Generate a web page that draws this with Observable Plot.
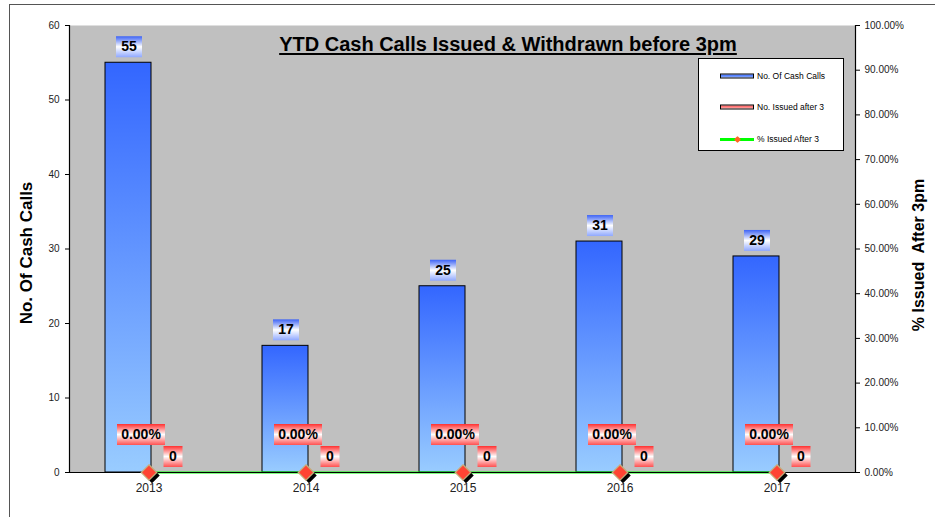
<!DOCTYPE html>
<html>
<head>
<meta charset="utf-8">
<script src="https://cdn.jsdelivr.net/npm/d3@7"></script>
<script src="https://cdn.jsdelivr.net/npm/@observablehq/plot@0.6"></script>
<style>
  body { margin: 0; background: #fff; font-family: Arial, "Liberation Sans", sans-serif; }
  #wrap { position: relative; width: 935px; height: 517px; overflow: hidden; }
  #border { position: absolute; left: 9px; top: 4px; width: 960px; height: 560px; border-left: 1.5px solid #555; border-top: 1.5px solid #555; pointer-events: none; }
  #chart { position: absolute; left: 0; top: 0; }
  .title { position: absolute; left: 508px; top: 33px; transform: translateX(-50%); white-space: nowrap; font-weight: bold; font-size: 20px; text-decoration: underline; text-decoration-thickness: 2px; text-underline-offset: 2px; color: #000; }
  .ylab { position: absolute; white-space: nowrap; font-weight: bold; color: #000; transform: translate(-50%, -50%) rotate(-90deg); }
  #legend { position: absolute; left: 698px; top: 58px; width: 146px; height: 93px; background: #fff; border: 1px solid #000; box-sizing: border-box; }
  .lg { position: absolute; left: 58px; font-size: 8.5px; color: #000; white-space: nowrap; transform: translateY(-50%); }
  .sw { position: absolute; left: 21px; width: 34px; height: 5px; box-sizing: border-box; border: 1px solid #000; transform: translateY(-50%); }
</style>
</head>
<body>
<div id="wrap">
  <div id="border"></div>
  <div id="chart"></div>
</div>
<script>
// ---- data ----
const years = ["2013", "2014", "2015", "2016", "2017"];
const cashCalls = [55, 17, 25, 31, 29];
const issuedAfter3 = [0, 0, 0, 0, 0];
const pctIssuedAfter3 = [0, 0, 0, 0, 0];          // fraction of calls
const leftTicks = [0, 10, 20, 30, 40, 50, 60];
const rightTicks = [0, 0.1, 0.2, 0.3, 0.4, 0.5, 0.6, 0.7, 0.8, 0.9, 1.0];
const seriesNames = ["No. Of Cash Calls", "No. Issued after 3", "% Issued After 3"];
const titleText = "YTD Cash Calls Issued & Withdrawn before 3pm";
const leftAxisTitle = "No. Of Cash Calls";
const rightAxisTitle = "% Issued\u00a0 After 3pm";

const yMax = 60;
const rows = years.map((y, i) => ({
  year: y, calls: cashCalls[i], after3: issuedAfter3[i], pct: pctIssuedAfter3[i]
}));
const pctY = d => d.pct * yMax;
const fmtPct = v => (v * 100).toFixed(2) + "%";

const boxSymbol = (w, h) => ({ draw(ctx) { ctx.rect(-w / 2, -h / 2, w, h); } });
const lblFont = { fontWeight: "bold", fontSize: 14, fill: "#000" };

const plot = Plot.plot({
  width: 935,
  height: 517,
  marginLeft: 69,
  marginRight: 80,
  marginTop: 25,
  marginBottom: 45,
  style: { fontFamily: "Arial, 'Liberation Sans', sans-serif", fontSize: "10px", color: "#222", background: "transparent" },
  x: { type: "band", domain: years, padding: 0, label: null },
  y: { domain: [0, yMax], label: null },
  marks: [
    Plot.frame({ fill: "#c0c0c0", stroke: "none" }),
    Plot.barY(rows, { x: "year", y: "calls", insetLeft: 35, insetRight: 76, fill: "url(#barBlue)", stroke: "#000", strokeWidth: 1 }),
    Plot.barY(rows, { x: "year", y: "after3", insetLeft: 81, insetRight: 30, fill: "url(#barRed)", stroke: "#000", strokeWidth: 1 }),
    Plot.lineY(rows, { x: "year", y: pctY, stroke: "#00ff00", strokeWidth: 2 }),
    Plot.ruleY([0], { stroke: "#000", strokeWidth: 1.2 }),
    Plot.frame({ anchor: "left", stroke: "#000", strokeWidth: 1.2 }),
    Plot.frame({ anchor: "right", stroke: "#000", strokeWidth: 1.2 }),
    Plot.axisY({ ticks: leftTicks, tickSize: 4, tickPadding: 6, label: null, stroke: "#000" }),
    Plot.axisY({ anchor: "right", ticks: rightTicks.map(t => t * yMax), tickFormat: v => fmtPct(v / yMax), tickSize: 4, tickPadding: 5, label: null, stroke: "#000" }),
    Plot.axisX({ tickSize: 0, tickPadding: 11, label: null, fontSize: 12 }),
    // markers of % series
    Plot.dot(rows, { x: "year", y: pctY, symbol: "diamond2", r: 7, fill: "#000", dx: 3, dy: 3 }),
    Plot.dot(rows, { x: "year", y: pctY, symbol: "diamond2", r: 7, fill: "#ff4433", stroke: "#c8ad7a", strokeWidth: 1.2 }),
    // value labels
    Plot.dot(rows, { x: "year", y: "calls", symbol: boxSymbol(26, 21), fill: "url(#lblBlue)", dx: -20, dy: -16 }),
    Plot.text(rows, { x: "year", y: "calls", text: d => String(d.calls), dx: -20, dy: -16, ...lblFont }),
    Plot.dot(rows, { x: "year", y: pctY, symbol: boxSymbol(48, 21), fill: "url(#lblRed)", dx: -8, dy: -38 }),
    Plot.text(rows, { x: "year", y: pctY, text: d => fmtPct(d.pct), dx: -8, dy: -38, ...lblFont }),
    Plot.dot(rows, { x: "year", y: "after3", symbol: boxSymbol(19, 21), fill: "url(#lblRed)", dx: 24, dy: -16 }),
    Plot.text(rows, { x: "year", y: "after3", text: d => String(d.after3), dx: 24, dy: -16, ...lblFont })
  ]
});

const defs = document.createElementNS("http://www.w3.org/2000/svg", "defs");
defs.innerHTML = `
  <linearGradient id="barBlue" x1="0" y1="0" x2="0" y2="1">
    <stop offset="0" stop-color="#3366ff"/><stop offset="1" stop-color="#99ccff"/>
  </linearGradient>
  <linearGradient id="barRed" x1="0" y1="0" x2="0" y2="1">
    <stop offset="0" stop-color="#ff3333"/><stop offset="1" stop-color="#ff9999"/>
  </linearGradient>
  <linearGradient id="lblBlue" x1="0" y1="0" x2="0" y2="1">
    <stop offset="0" stop-color="#3d63f5"/><stop offset="0.5" stop-color="#ffffff"/><stop offset="1" stop-color="#8fa8ff"/>
  </linearGradient>
  <linearGradient id="lblRed" x1="0" y1="0" x2="0" y2="1">
    <stop offset="0" stop-color="#ff3030"/><stop offset="0.5" stop-color="#ffffff"/><stop offset="1" stop-color="#ff5050"/>
  </linearGradient>`;
plot.insertBefore(defs, plot.firstChild);
document.getElementById("chart").appendChild(plot);

const wrap = document.getElementById("wrap");
const t = document.createElement("div");
t.className = "title"; t.textContent = titleText; wrap.appendChild(t);

const yl = document.createElement("div");
yl.className = "ylab"; yl.style.left = "27px"; yl.style.top = "253px"; yl.style.fontSize = "17px";
yl.textContent = leftAxisTitle; wrap.appendChild(yl);

const yr = document.createElement("div");
yr.className = "ylab"; yr.style.left = "919px"; yr.style.top = "255px"; yr.style.fontSize = "16px";
yr.textContent = rightAxisTitle; wrap.appendChild(yr);

// legend
const lg = document.createElement("div");
lg.id = "legend";
const swatches = [
  { top: 17, html: `<div class="sw" style="top:17px;background:linear-gradient(#3366ff,#8fb0ff);"></div>` },
  { top: 48, html: `<div class="sw" style="top:48px;background:linear-gradient(#ff5050,#ffb0b0);"></div>` },
  { top: 80, html: `<div style="position:absolute;left:21px;top:79px;width:34px;height:3px;background:#00ff00;"></div><div style="position:absolute;left:36px;top:78px;width:5px;height:5px;background:#ff6622;border-radius:1px;transform:rotate(45deg);"></div>` }
];
lg.innerHTML = seriesNames.map((n, i) => swatches[i].html + `<div class="lg" style="top:${swatches[i].top}px;">${n}</div>`).join("");
wrap.appendChild(lg);
</script>
</body>
</html>
